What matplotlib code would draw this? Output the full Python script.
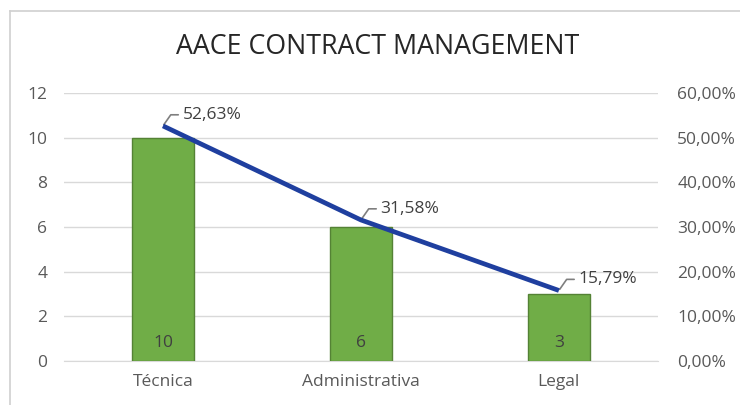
import numpy as np
import matplotlib.pyplot as plt
from matplotlib.ticker import FuncFormatter

# data ------------------------------------------------------------
categorias = ['Técnica', 'Administrativa', 'Legal']
cantidad = [10, 6, 3]
porcentaje = [52.63, 31.58, 15.79]
# ----------------------------------------------------------------

plt.rcParams['font.family'] = ['Open Sans', 'DejaVu Sans']
gris = '#595959'
fs = 12.5

fig = plt.figure(figsize=(7.4, 4.05), dpi=100)
ax = fig.add_axes([0.0865, 0.1086, 0.8025, 0.6618])
ax2 = ax.twinx()

x = np.arange(len(categorias))
bars = ax.bar(x, cantidad, width=0.315, color='#70AD47', edgecolor='#548235',
              linewidth=1, zorder=3)
for xi, v in zip(x, cantidad):
    ax.text(xi, 0.8, str(v), ha='center', va='center', fontsize=fs,
            color='#404040', zorder=4)

ax.set_xlim(-0.5, 2.5)
ax.set_ylim(0, 12)
ax.set_yticks(range(0, 13, 2))
ax.grid(axis='y', color='#D9D9D9', linewidth=1, zorder=0)
ax.set_xticks(x)
ax.set_xticklabels(categorias)

ax2.set_ylim(0, 60)
ax2.set_yticks(range(0, 61, 10))
ax2.yaxis.set_major_formatter(FuncFormatter(lambda v, p: f'{v:.2f}%'.replace('.', ',')))
ax2.plot(x, porcentaje, color='#1F3F9F', linewidth=3.4, solid_capstyle='butt', zorder=5)
for xi, p in zip(x, porcentaje):
    ax2.annotate(f'{p:.2f}%'.replace('.', ','), xy=(xi, p), xytext=(14, 8),
                 textcoords='offset points', ha='left', va='center', fontsize=fs,
                 color='#404040',
                 arrowprops=dict(arrowstyle='-', color='#7F7F7F', lw=1.2,
                                 shrinkA=1, shrinkB=1,
                                 connectionstyle='angle,angleA=180,angleB=55,rad=0'))

for a in (ax, ax2):
    for s in a.spines.values():
        s.set_visible(False)
    a.tick_params(length=0, labelsize=fs, labelcolor=gris, pad=14)
ax.tick_params(axis='x', pad=9)
ax.tick_params(axis='y', pad=12)
ax.spines['bottom'].set_visible(True)
ax.spines['bottom'].set_color('#D9D9D9')

fig.text(0.51, 0.885, 'AACE CONTRACT MANAGEMENT', ha='center', va='center',
         fontsize=19.3, color='#262626')

# chart frame
fig.add_artist(plt.Line2D([0.0135, 0.0135], [0, 0.973], color='#D0D0D0', lw=1.2))
fig.add_artist(plt.Line2D([0.0135, 1], [0.973, 0.973], color='#D0D0D0', lw=1.2))

fig.savefig('out.png', dpi=100)
